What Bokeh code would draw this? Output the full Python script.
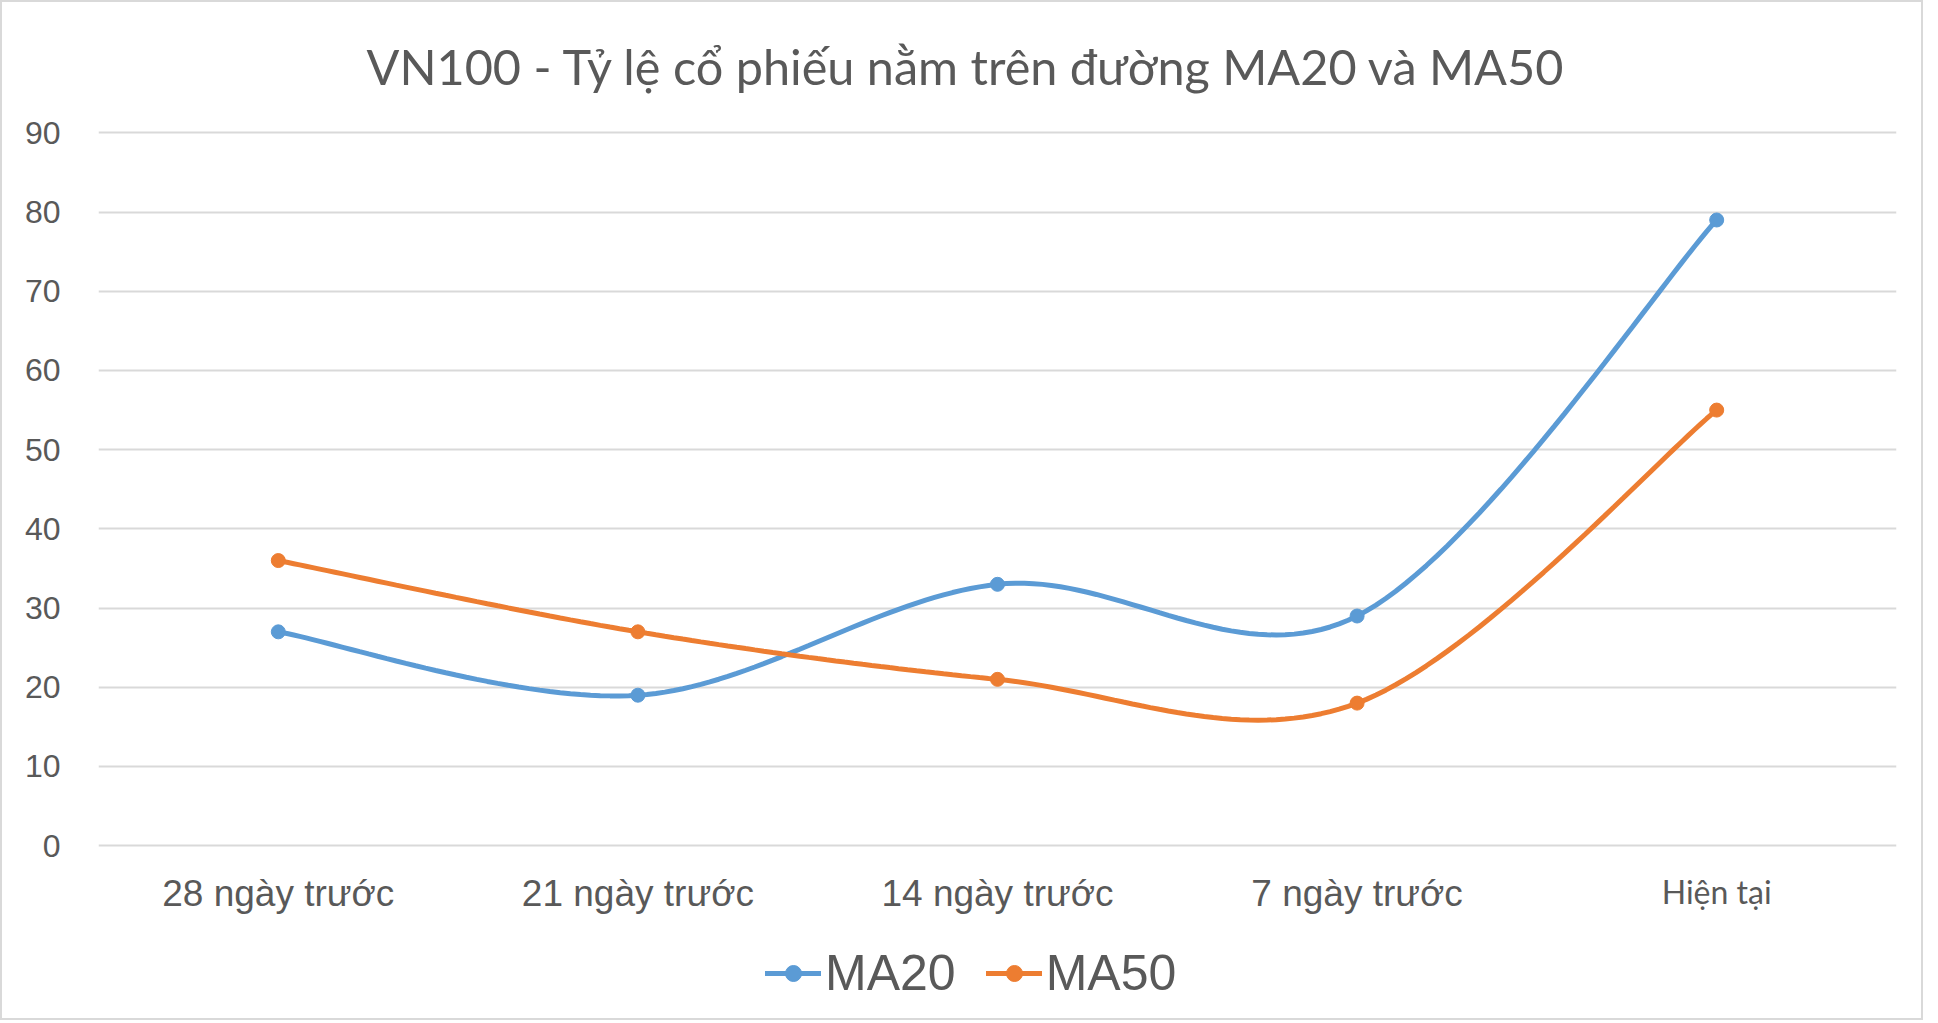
import numpy as np
from bokeh.plotting import figure
from bokeh.models import (Range1d, FixedTicker, Legend, LegendItem, LinearAxis, Title)
from bokeh.embed import file_html
from bokeh.resources import INLINE

# ---- data ----
categories = ["28 ngày trước", "21 ngày trước", "14 ngày trước", "7 ngày trước", "Hiện tại"]
ma20 = [27, 19, 33, 29, 79]
ma50 = [36, 27, 21, 18, 55]
y_ticks = [0, 10, 20, 30, 40, 50, 60, 70, 80, 90]
title_text = "VN100 - Tỷ lệ cổ phiếu nằm trên đường MA20 và MA50"

BLUE = "#5B9BD5"
ORANGE = "#ED7D31"
TEXT = "#595959"
GRID = "#D9D9D9"

x_idx = list(range(len(categories)))


def smooth(xs, ys, n=40):
    """Excel-like smoothed line: uniform Catmull-Rom through the data points."""
    P = np.column_stack([xs, ys]).astype(float)
    P = np.vstack([P[0], P, P[-1]])
    out = []
    for i in range(1, len(P) - 2):
        p0, p1, p2, p3 = P[i - 1], P[i], P[i + 1], P[i + 2]
        c1 = p1 + (p2 - p0) / 6.0
        c2 = p2 - (p3 - p1) / 6.0
        t = np.linspace(0, 1, n, endpoint=(i == len(P) - 3))[:, None]
        seg = ((1 - t) ** 3) * p1 + 3 * ((1 - t) ** 2) * t * c1 + 3 * (1 - t) * t ** 2 * c2 + t ** 3 * p2
        out.append(seg)
    out = np.vstack(out)
    return out[:, 0], out[:, 1]


# the plot frame reaches down to the legend row, so the legend is drawn inside it
p = figure(width=1923, height=1020, output_backend="svg", toolbar_location=None,
           x_range=Range1d(-0.5, len(categories) - 0.5), y_range=Range1d(-19.8, 90.3),
           min_border_left=96, min_border_right=29, min_border_top=128, min_border_bottom=20,
           x_axis_location=None)
p.styles = {"border": "2px solid #D9D9D9"}
p.outline_line_color = None
p.background_fill_color = "white"
p.border_fill_color = "white"

p.title = Title(text=title_text, align="left", vertical_align="top", text_font="Lato",
                text_font_size="48.6px", text_font_style="normal", text_color=TEXT,
                offset=268, standoff=68)

# x axes: first four categories in one font, the last one as in the original (Calibri-like)
xa = LinearAxis(ticker=FixedTicker(ticks=x_idx[:-1]),
                major_label_overrides={i: c for i, c in zip(x_idx, categories)},
                major_label_text_font="Liberation Sans", major_label_text_font_size="37px",
                major_label_text_color=TEXT, major_label_standoff=-136,
                axis_line_color=None, major_tick_line_color=None, minor_tick_line_color=None)
p.add_layout(xa, "below")
xb = LinearAxis(ticker=FixedTicker(ticks=x_idx[-1:]),
                major_label_overrides={i: c for i, c in zip(x_idx, categories)},
                major_label_text_font="Lato", major_label_text_font_size="32px",
                major_label_text_color=TEXT, major_label_standoff=-137,
                axis_line_color=None, major_tick_line_color=None, minor_tick_line_color=None)
p.add_layout(xb, "below")

p.yaxis.ticker = FixedTicker(ticks=y_ticks)
p.yaxis.major_label_text_font = "Liberation Sans"
p.yaxis.major_label_text_font_size = "32px"
p.yaxis.major_label_text_color = TEXT
p.yaxis.major_label_standoff = 32
p.yaxis.axis_line_color = None
p.yaxis.major_tick_line_color = None
p.yaxis.minor_tick_line_color = None

p.xgrid.grid_line_color = None
p.ygrid.ticker = FixedTicker(ticks=y_ticks)
p.ygrid.grid_line_color = GRID
p.ygrid.grid_line_width = 2

# series
items = []
for name, ys, col in [("MA20", ma20, BLUE), ("MA50", ma50, ORANGE)]:
    sx, sy = smooth(x_idx, ys)
    lr = p.line(sx, sy, line_color=col, line_width=5, line_cap="round")
    sr = p.scatter(x_idx, ys, size=14, fill_color=col, line_color=col)
    items.append(LegendItem(label=name, renderers=[lr, sr]))

legend = Legend(items=items, orientation="horizontal", location=(667, 0),
                label_text_font="Liberation Sans", label_text_font_size="50px",
                label_text_color=TEXT, glyph_width=56, glyph_height=40, spacing=30,
                label_standoff=4, border_line_color=None, background_fill_alpha=0,
                margin=0, padding=0)
p.add_layout(legend, "center")

open("out.html", "w").write(file_html(p, INLINE))
